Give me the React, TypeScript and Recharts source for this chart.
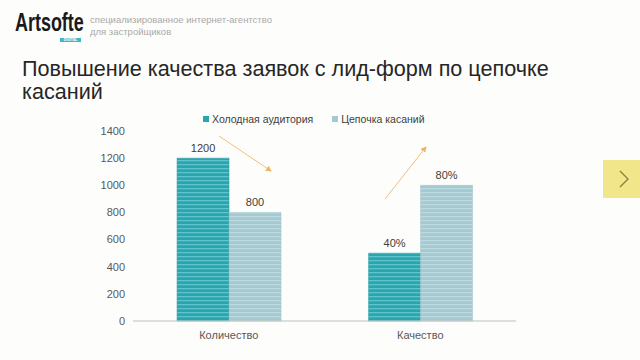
import React from "react";
import { BarChart, Bar, XAxis, YAxis, LabelList } from "recharts";

const categories = ["Количество", "Качество"];
const coldValues = [1200, 500];
const chainValues = [800, 1000];
const coldLabels = ["1200", "40%"];
const chainLabels = ["800", "80%"];
const yTicks = [0, 200, 400, 600, 800, 1000, 1200, 1400];
const seriesNames = ["Холодная аудитория", "Цепочка касаний"];

const data = categories.map((c, i) => ({
  name: c,
  cold: coldValues[i],
  chain: chainValues[i],
  coldLabel: coldLabels[i],
  chainLabel: chainLabels[i],
}));

const FONT = "'Liberation Sans', Arial, sans-serif";
const COLD = "#2aa5ae";
const CHAIN = "#a4c9d1";

export default function App() {
  return (
    <div style={{ position: "fixed", left: 0, top: 0, width: 640, height: 360, background: "#fdfdfb", overflow: "hidden" }}>
      {/* Logo */}
      <div style={{ position: "absolute", left: 15, top: 10, height: 24, fontFamily: FONT, fontSize: 26, lineHeight: "24px", fontWeight: "bold", color: "#1a1a1a", transform: "scaleX(0.69)", transformOrigin: "0 0", whiteSpace: "nowrap" }}>
        Artsofte
      </div>
      <div style={{ position: "absolute", left: 60, top: 38, width: 21, height: 4, background: "#3cb9c9", color: "#fff", fontFamily: FONT, fontSize: 3.5, lineHeight: "4px", textAlign: "center", fontWeight: "bold" }}>
        DIGITAL
      </div>
      <div style={{ position: "absolute", left: 90, top: 14, fontFamily: FONT, fontSize: 9.5, color: "#a9a9a9", lineHeight: "12px", whiteSpace: "nowrap" }}>
        специализированное интернет-агентство
        <br />
        для застройщиков
      </div>
      {/* Title */}
      <div style={{ position: "absolute", left: 22, top: 57, fontFamily: FONT, fontSize: 21.6, color: "#262626", lineHeight: "23px", width: 600 }}>
        Повышение качества заявок с лид-форм по цепочке
        <br />
        касаний
      </div>
      {/* Next button */}
      <div style={{ position: "absolute", left: 603, top: 160, width: 40, height: 38, background: "#f2e68a" }}>
        <svg width={40} height={38}>
          <polyline points="17,11 25,19 17,27" fill="none" stroke="#8a7f3a" strokeWidth={1.3} />
        </svg>
      </div>

      {/* Legend */}
      <div style={{ position: "absolute", left: 203, top: 113, display: "flex", fontFamily: FONT, fontSize: 10.5, color: "#404040", alignItems: "center", whiteSpace: "nowrap" }}>
        <span style={{ width: 6, height: 6, background: COLD, display: "inline-block", marginRight: 3 }} />
        <span style={{ marginRight: 19 }}>{seriesNames[0]}</span>
        <span style={{ width: 6, height: 6, background: CHAIN, display: "inline-block", marginRight: 3 }} />
        <span>{seriesNames[1]}</span>
      </div>

      <div style={{ position: "absolute", left: 0, top: 0 }}>
        <BarChart
          width={640}
          height={360}
          data={data}
          margin={{ top: 131, right: 124, bottom: 9, left: 83 }}
          barCategoryGap="23%"
          barGap={0}
        >
          <defs>
            <pattern id="coldStripe" width={4} height={4} patternUnits="userSpaceOnUse">
              <rect width={4} height={4} fill={COLD} />
              <rect y={0} width={4} height={1.3} fill="#5fc4cb" />
            </pattern>
            <pattern id="chainStripe" width={4} height={4} patternUnits="userSpaceOnUse">
              <rect width={4} height={4} fill={CHAIN} />
              <rect y={0} width={4} height={1.3} fill="#bddae0" />
            </pattern>
          </defs>
          <XAxis
            dataKey="name"
            axisLine={{ stroke: "#bfbfbf" }}
            tickLine={false}
            tick={{ fill: "#595959", fontSize: 11, fontFamily: FONT }}
            tickMargin={4}
          />
          <YAxis
            width={50}
            domain={[0, 1400]}
            ticks={yTicks}
            axisLine={false}
            tickLine={false}
            tick={{ fill: "#595959", fontSize: 11, fontFamily: FONT }}
          />
          <Bar dataKey="cold" name={seriesNames[0]} fill="url(#coldStripe)" stroke="#2b9aa3" strokeWidth={0.5} isAnimationActive={false}>
            <LabelList dataKey="coldLabel" position="top" offset={6} style={{ fill: "#404040", fontSize: 11, fontFamily: FONT }} />
          </Bar>
          <Bar dataKey="chain" name={seriesNames[1]} fill="url(#chainStripe)" stroke="#9cc2ca" strokeWidth={0.5} isAnimationActive={false}>
            <LabelList dataKey="chainLabel" position="top" offset={6} style={{ fill: "#404040", fontSize: 11, fontFamily: FONT }} />
          </Bar>
        </BarChart>
      </div>

      {/* Decorative arrows */}
      <svg width={640} height={360} style={{ position: "absolute", left: 0, top: 0, pointerEvents: "none" }}>
        <defs>
          <marker id="ah" markerWidth={6} markerHeight={6} refX={5} refY={3} orient="auto">
            <path d="M0,0 L6,3 L0,6 Z" fill="#f0b460" />
          </marker>
        </defs>
        <line x1={219} y1={136} x2={271} y2={171} stroke="#f0c080" strokeWidth={1} markerEnd="url(#ah)" />
        <line x1={385} y1={199} x2={426} y2={147} stroke="#f0c080" strokeWidth={1} markerEnd="url(#ah)" />
      </svg>
    </div>
  );
}
